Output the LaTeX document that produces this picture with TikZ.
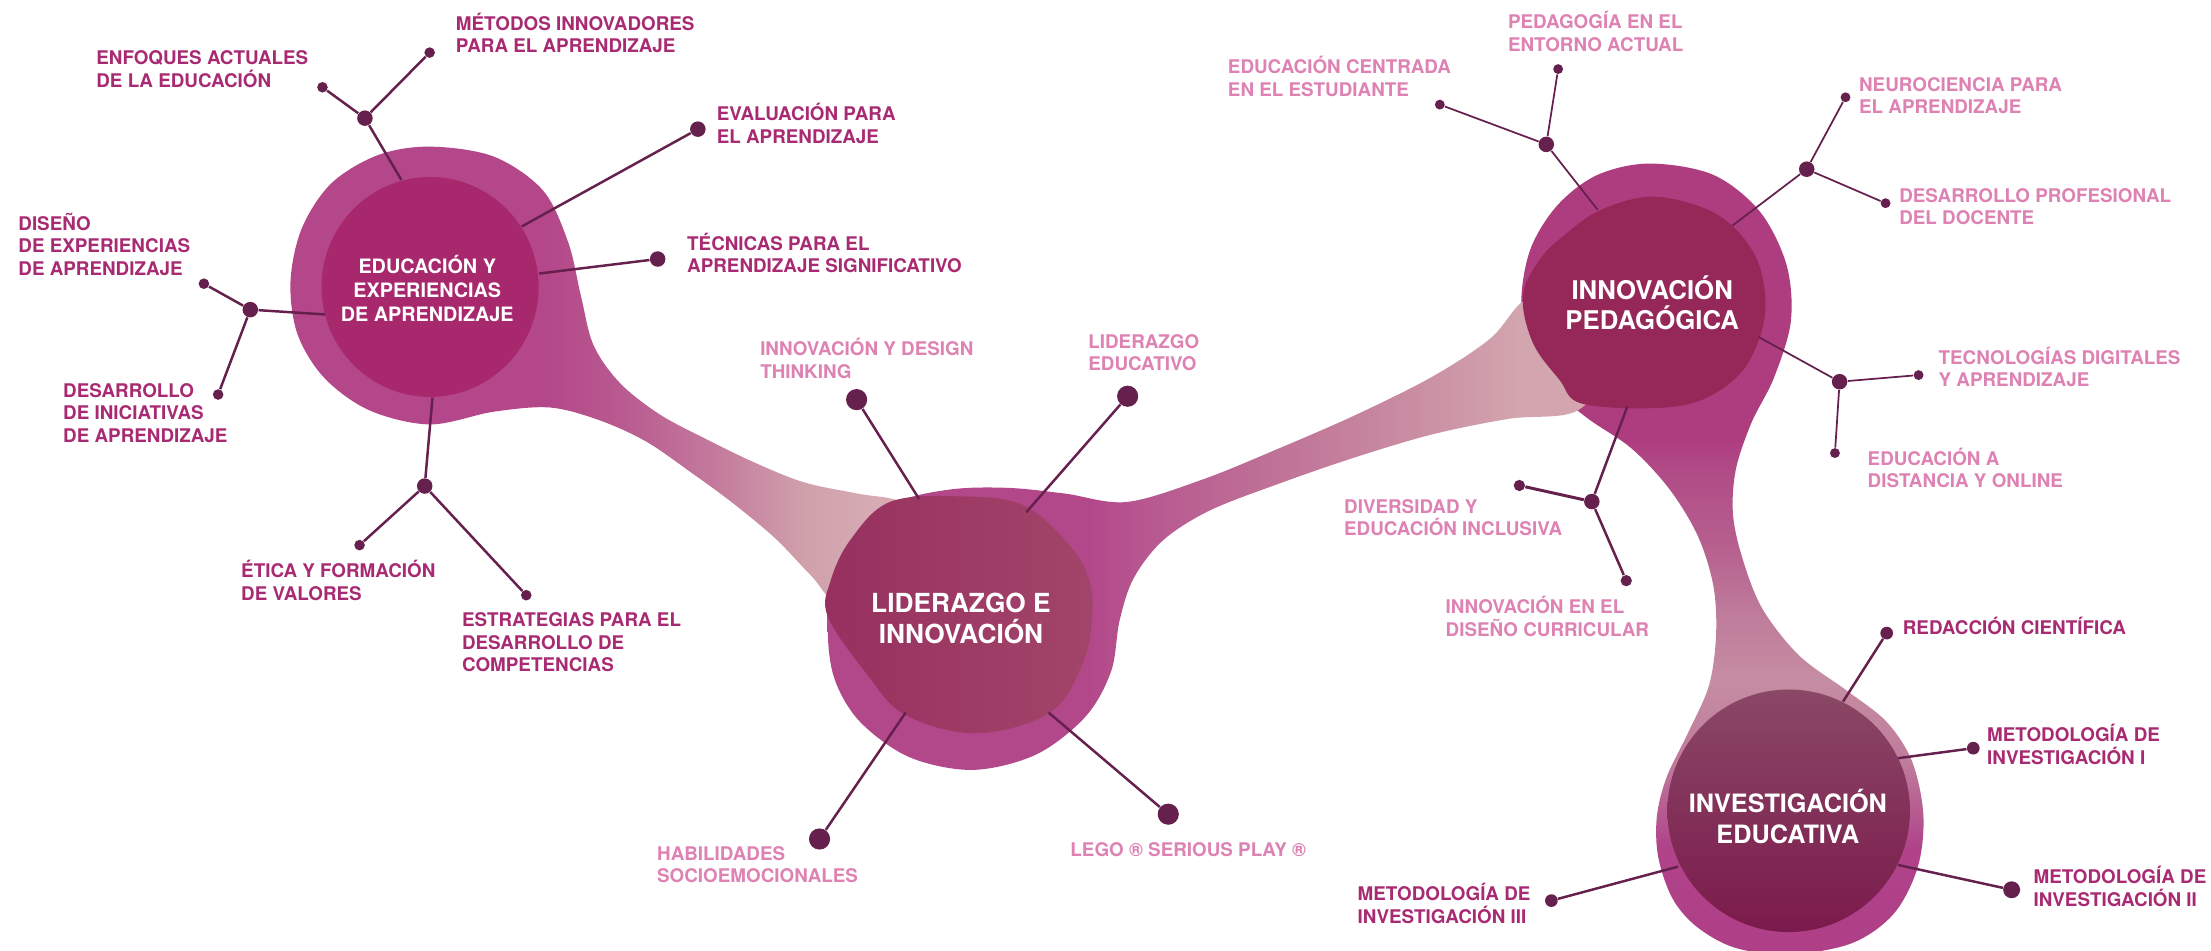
\documentclass[tikz,border=0pt]{standalone}
\usepackage{fontspec}
\setmainfont{TeX Gyre Heros}
\definecolor{lineC}{HTML}{65204E}
\definecolor{darkL}{HTML}{A82A72}
\definecolor{pinkL}{HTML}{DD82B3}
\definecolor{eduIn}{HTML}{A8286E}
\definecolor{lidInA}{HTML}{97305F}
\definecolor{lidInB}{HTML}{A2456A}
\definecolor{innIn}{HTML}{952858}
\definecolor{invInA}{HTML}{8A4866}
\definecolor{invInM}{HTML}{7E2453}
\definecolor{invInB}{HTML}{7B1A4C}
\definecolor{ebA}{HTML}{B4478A}
\definecolor{ebB}{HTML}{B95B90}
\definecolor{ebC}{HTML}{C47A9C}
\definecolor{ebD}{HTML}{D0A0AB}
\definecolor{ebE}{HTML}{D6ABB3}
\definecolor{lbA}{HTML}{B2478A}
\definecolor{lbB}{HTML}{B75790}
\definecolor{lbC}{HTML}{BF7196}
\definecolor{lbD}{HTML}{C98DA2}
\definecolor{lbE}{HTML}{D3A6AF}
\definecolor{tbA}{HTML}{AF3F86}
\definecolor{tbB}{HTML}{B0438A}
\definecolor{tbC}{HTML}{BF7B9B}
\definecolor{tbD}{HTML}{C58DA2}
\definecolor{tbE}{HTML}{BE7A9A}
\definecolor{tbF}{HTML}{B7628F}
\definecolor{tbG}{HTML}{B04A86}
\definecolor{tbH}{HTML}{AE3D80}
\pgfdeclarehorizontalshading{eduband}{100bp}{color(0bp)=(ebA); color(45bp)=(ebA); color(51bp)=(ebB); color(58bp)=(ebC); color(65bp)=(ebD); color(70bp)=(ebE); color(100bp)=(ebE)}
\pgfdeclarehorizontalshading{lidband}{100bp}{color(0bp)=(lbA); color(41.5bp)=(lbA); color(45.2bp)=(lbB); color(53.3bp)=(lbC); color(62.3bp)=(lbD); color(69.6bp)=(lbE); color(100bp)=(lbE)}
\pgfdeclareverticalshading{tailshade}{100bp}{color(0bp)=(tbA); color(25bp)=(tbA); color(31.8bp)=(tbB); color(37.1bp)=(tbC); color(42.4bp)=(tbD); color(46.9bp)=(tbE); color(50.4bp)=(tbF); color(55.8bp)=(tbG); color(57.6bp)=(tbH); color(100bp)=(tbH)}
\begin{document}
\begin{tikzpicture}[x=0.2mm,y=-0.2mm,
  dot/.style={circle,fill=lineC,inner sep=0pt,draw=none},
  conn/.style={draw=lineC,line width=1.0pt},
  connthin/.style={draw=lineC,line width=0.7pt},
  connthick/.style={draw=lineC,line width=1.2pt},
  lab/.style={anchor=base west,align=left,inner sep=0pt,font=\bfseries\fontsize{7.6}{9.1}\selectfont},
  dlab/.style={lab,text=darkL},
  plab/.style={lab,text=pinkL},
  ttl/.style={align=center,inner sep=0pt,text=white}]
\path[use as bounding box,fill=white] (0,0) rectangle (1568,674);

% outer shapes and bands
\path[shade,shading=tailshade] plot[smooth cycle,tension=0.55] coordinates {(1170,116) (1215,124) (1248,150) (1267,188) (1270,228) (1258,268) (1242,300) (1231,333) (1229,365) (1236,397) (1250,432) (1276,465) (1310,490) (1338,512) (1356,540) (1364,578) (1360,615) (1343,648) (1313,669) (1268,677) (1230,672) (1203,657) (1186,637) (1176,608) (1175,579) (1182,551) (1197,520) (1212,486) (1217,450) (1215,415) (1204,380) (1184,347) (1157,318) (1125,296) (1098,272) (1083,243) (1079,210) (1086,175) (1105,145) (1133,124)};
\path[shade,shading=lidband] plot[smooth cycle,tension=0.55] coordinates {(587,448) (590,410) (606,378) (636,356) (675,347) (715,346) (755,350) (799,356) (853,340) (907,318) (962,294) (1016,267) (1057,240) (1081,213) (1112,205) (1140,255) (1119,291) (1070,297) (1016,308) (962,324) (907,343) (858,362) (825,383) (804,410) (794,440) (788,476) (770,508) (735,535) (690,546) (645,537) (610,512) (592,482)};
\path[shade,shading=eduband] plot[smooth cycle,tension=0.55] coordinates {(305,104) (350,111) (385,135) (403,172) (412,210) (421,245) (440,272) (468,294) (500,311) (535,328) (570,342) (608,350) (640,356) (662,375) (640,414) (598,430) (575,408) (550,382) (520,357) (490,335) (458,313) (425,298) (390,289) (350,292) (305,301) (262,291) (230,268) (211,237) (206,200) (214,162) (235,130) (268,110)};

% inner shapes
\fill[eduIn] (305,203.5) ellipse [x radius=77, y radius=78];
\path[left color=lidInA,right color=lidInB] plot[smooth cycle,tension=0.6] coordinates {(587,437) (589,412) (603,383) (631,356) (680,352) (725,358) (757,385) (772,410) (774.5,437) (768,470) (745,505) (693,520) (642,507) (614,477)};
\fill[innIn] plot[smooth cycle,tension=0.6] coordinates {(1080,210) (1092,184) (1111,165.5) (1135,149) (1170,139.5) (1206,146.6) (1229,160.7) (1246,184) (1252,213) (1248,239) (1234,265) (1206,284) (1170,289.5) (1121,286) (1106,269.5) (1087,243)};
\path[top color=invInA,middle color=invInM,bottom color=invInB] (1268.5,575) ellipse [x radius=86, y radius=86];

% titles
\node[ttl,font=\bfseries\fontsize{8}{9.7}\selectfont] (tEdu) at (303,204.4) {EDUCACIÓN Y\\EXPERIENCIAS\\DE APRENDIZAJE};
\node[ttl,font=\bfseries\fontsize{10.6}{12.6}\selectfont] (tLid) at (681.5,438.5) {LIDERAZGO E\\INNOVACIÓN};
\node[ttl,font=\bfseries\fontsize{10.4}{12.2}\selectfont] (tInn) at (1171.7,214.9) {INNOVACIÓN\\PEDAGÓGICA};
\node[ttl,font=\bfseries\fontsize{10.2}{12.7}\selectfont] (tInv) at (1267.9,579.2) {INVESTIGACIÓN\\EDUCATIVA};

% connector start points on the inner shapes
\coordinate (es1) at (284.6,127.5);
\coordinate (es2) at (370,160.6);
\coordinate (es3) at (382.4,194);
\coordinate (es4) at (230.4,223);
\coordinate (es5) at (306.7,282);
\coordinate (ls1) at (651.8,353.9);
\coordinate (ls2) at (727.8,363.3);
\coordinate (ls3) at (642.3,505.3);
\coordinate (ls4) at (743.6,505.3);
\coordinate (is1) at (1133,148.8);
\coordinate (is2) at (1228.6,160);
\coordinate (is3) at (1247.2,239);
\coordinate (is4) at (1154,288.4);
\coordinate (vs1) at (1307,497.6);
\coordinate (vs2) at (1346,537.7);
\coordinate (vs3) at (1346,613.4);
\coordinate (vs4) at (1190,614.6);

% dots
\node[dot,minimum size=0.22cm] (eh1) at (258.8,83.8) {};
\node[dot,minimum size=0.15cm] (edEnf) at (228.7,61.9) {};
\node[dot,minimum size=0.15cm] (edMet) at (304.7,37.3) {};
\node[dot,minimum size=0.22cm] (edEval) at (494.9,91.6) {};
\node[dot,minimum size=0.22cm] (edTec) at (466.4,183.7) {};
\node[dot,minimum size=0.22cm] (eh2) at (177.5,219.6) {};
\node[dot,minimum size=0.15cm] (edDis) at (144.6,201.2) {};
\node[dot,minimum size=0.15cm] (edDes) at (154.7,279.8) {};
\node[dot,minimum size=0.22cm] (eh3) at (301.2,344.7) {};
\node[dot,minimum size=0.15cm] (edEti) at (255,386.6) {};
\node[dot,minimum size=0.15cm] (edEst) at (373.2,422.1) {};
\node[dot,minimum size=0.30cm] (ld1) at (607.5,283.4) {};
\node[dot,minimum size=0.30cm] (ld2) at (799.7,281) {};
\node[dot,minimum size=0.30cm] (ld3) at (581.2,595) {};
\node[dot,minimum size=0.30cm] (ld4) at (828.5,577.4) {};
\node[dot,minimum size=0.22cm] (ih1) at (1096.6,102.4) {};
\node[dot,minimum size=0.14cm] (idCen) at (1021.1,74.2) {};
\node[dot,minimum size=0.14cm] (idPed) at (1105,49) {};
\node[dot,minimum size=0.22cm] (ih2) at (1281.3,120) {};
\node[dot,minimum size=0.14cm] (idNeu) at (1308.8,69) {};
\node[dot,minimum size=0.14cm] (idDes) at (1337.2,144.1) {};
\node[dot,minimum size=0.22cm] (ih3) at (1304.6,270.7) {};
\node[dot,minimum size=0.14cm] (idTec) at (1360.6,266) {};
\node[dot,minimum size=0.14cm] (idDist) at (1301.3,321.3) {};
\node[dot,minimum size=0.22cm] (ih4) at (1128.9,355.7) {};
\node[dot,minimum size=0.16cm] (idDiv) at (1077.5,344.3) {};
\node[dot,minimum size=0.16cm] (idCur) at (1153.3,411.8) {};
\node[dot,minimum size=0.18cm] (vd1) at (1338,449) {};
\node[dot,minimum size=0.18cm] (vd2) at (1399.4,530.6) {};
\node[dot,minimum size=0.24cm] (vd3) at (1426.6,631) {};
\node[dot,minimum size=0.18cm] (vd4) at (1100.2,638.7) {};

% connectors
\draw[conn] (es1) -- (eh1);
\draw[conn] (eh1) -- (edEnf);
\draw[conn] (eh1) -- (edMet);
\draw[conn] (es2) -- (edEval);
\draw[conn] (es3) -- (edTec);
\draw[conn] (es4) -- (eh2);
\draw[conn] (eh2) -- (edDis);
\draw[conn] (eh2) -- (edDes);
\draw[conn] (es5) -- (eh3);
\draw[conn] (eh3) -- (edEti);
\draw[conn] (eh3) -- (edEst);
\draw[conn] (ls1) -- (ld1);
\draw[conn] (ls2) -- (ld2);
\draw[conn] (ls3) -- (ld3);
\draw[conn] (ls4) -- (ld4);
\draw[connthin] (is1) -- (ih1);
\draw[connthin] (ih1) -- (idCen);
\draw[connthin] (ih1) -- (idPed);
\draw[connthin] (is2) -- (ih2);
\draw[connthin] (ih2) -- (idNeu);
\draw[connthin] (ih2) -- (idDes);
\draw[connthin] (is3) -- (ih3);
\draw[connthin] (ih3) -- (idTec);
\draw[connthin] (ih3) -- (idDist);
\draw[conn] (is4) -- (ih4);
\draw[connthick] (ih4) -- (idDiv);
\draw[conn] (ih4) -- (idCur);
\draw[conn] (vs1) -- (vd1);
\draw[conn] (vs2) -- (vd2);
\draw[conn] (vs3) -- (vd3);
\draw[conn] (vs4) -- (vd4);

% labels (anchored at the baseline of their last line)
\node[dlab] (lMet) at (323,37.3) {MÉTODOS INNOVADORES\\PARA EL APRENDIZAJE};
\node[dlab] (lEnf) at (68,62) {ENFOQUES ACTUALES\\DE LA EDUCACIÓN};
\node[dlab] (lEval) at (508,101.7) {EVALUACIÓN PARA\\EL APRENDIZAJE};
\node[dlab] (lTec) at (487,193.5) {TÉCNICAS PARA EL\\APRENDIZAJE SIGNIFICATIVO};
\node[dlab] (lDis) at (12.7,195.4) {DISEÑO\\DE EXPERIENCIAS\\DE APRENDIZAJE};
\node[dlab] (lDes) at (44.5,313.7) {DESARROLLO\\DE INICIATIVAS\\DE APRENDIZAJE};
\node[dlab] (lEti) at (170.7,425.7) {ÉTICA Y FORMACIÓN\\DE VALORES};
\node[dlab] (lEst) at (327.3,476.4) {ESTRATEGIAS PARA EL\\DESARROLLO DE\\COMPETENCIAS};
\node[dlab] (lRed) at (1349.1,450) {REDACCIÓN CIENTÍFICA};
\node[dlab] (lM1) at (1408.9,542) {METODOLOGÍA DE\\INVESTIGACIÓN I};
\node[dlab] (lM2) at (1441.8,642.7) {METODOLOGÍA DE\\INVESTIGACIÓN II};
\node[dlab] (lM3) at (962.5,654.7) {METODOLOGÍA DE\\INVESTIGACIÓN III};
\node[plab] (lDT) at (538.8,268.1) {INNOVACIÓN Y DESIGN\\THINKING};
\node[plab] (lLE) at (771.5,263.1) {LIDERAZGO\\EDUCATIVO};
\node[plab] (lHab) at (465.7,626.2) {HABILIDADES\\SOCIOEMOCIONALES};
\node[plab] (lLego) at (758.8,607.1) {LEGO ® SERIOUS PLAY ®};
\node[plab] (lCen) at (870.5,68.3) {EDUCACIÓN CENTRADA\\EN EL ESTUDIANTE};
\node[plab] (lPed) at (1069.1,36.5) {PEDAGOGÍA EN EL\\ENTORNO ACTUAL};
\node[plab] (lNeu) at (1318.1,80.7) {NEUROCIENCIA PARA\\EL APRENDIZAJE};
\node[plab] (lDP) at (1346.6,159.4) {DESARROLLO PROFESIONAL\\DEL DOCENTE};
\node[plab] (lTD) at (1374.5,274.2) {TECNOLOGÍAS DIGITALES\\Y APRENDIZAJE};
\node[plab] (lDist) at (1324.2,346) {EDUCACIÓN A\\DISTANCIA Y ONLINE};
\node[plab] (lDiv) at (952.9,379.9) {DIVERSIDAD Y\\EDUCACIÓN INCLUSIVA};
\node[plab] (lCur) at (1024.9,451.2) {INNOVACIÓN EN EL\\DISEÑO CURRICULAR};
\end{tikzpicture}
\end{document}
